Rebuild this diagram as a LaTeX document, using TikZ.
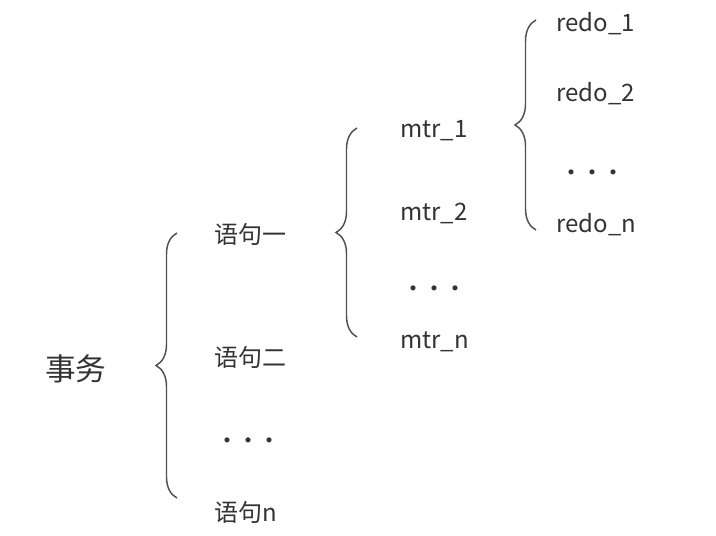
\documentclass[tikz,border=0pt]{standalone}
\usepackage{fontspec}
\setmainfont{Noto Sans CJK SC}
\usetikzlibrary{decorations.pathreplacing}
\definecolor{txtgray}{RGB}{51,51,51}
\definecolor{bracegray}{RGB}{80,80,80}
\newcommand{\dotrow}{·\hspace{-0.12em}·\hspace{-0.12em}·}

\begin{document}
\begin{tikzpicture}[
  x=0.75pt, y=-0.75pt,
  item/.style={anchor=base west, inner sep=0pt, text=txtgray,
               font=\fontsize{18}{21}\selectfont},
  head/.style={item, font=\fontsize{23}{27}\selectfont},
  gap/.style={item, anchor=west},
  curly/.style={decorate, decoration={brace, amplitude=15.75pt},
                draw=bracegray, line width=1.1pt}
]
\useasboundingbox (0,0) rectangle (716,535);

% Root
\node[head] (shiwu) at (45,380) {事务};

% Statements
\node[item] (yj1)   at (214,243) {语句一};
\node[item] (yj2)   at (214,366) {语句二};
\node[gap]  (yjdot) at (215,444) {\dotrow};
\node[item] (yjn)   at (214,521) {语句n};

% Mini-transactions of the first statement
\node[item] (mtr1)   at (400,137) {mtr\_1};
\node[item] (mtr2)   at (400,220) {mtr\_2};
\node[gap]  (mtrdot) at (401,292) {\dotrow};
\node[item] (mtrn)   at (400,348) {mtr\_n};

% Redo records of mtr_1
\node[item] (redo1)   at (556,32)  {redo\_1};
\node[item] (redo2)   at (556,101) {redo\_2};
\node[gap]  (redodot) at (559,176) {\dotrow};
\node[item] (redon)   at (556,232) {redo\_n};

% Brace ends
\coordinate (b1top) at (177,233);
\coordinate (b1bot) at (177,498);
\coordinate (b2top) at (357,128);
\coordinate (b2bot) at (357,337);
\coordinate (b3top) at (536,20);
\coordinate (b3bot) at (536,230);

% Braces
\draw[curly] (b1bot) -- (b1top);
\draw[curly] (b2bot) -- (b2top);
\draw[curly] (b3bot) -- (b3top);
\end{tikzpicture}
\end{document}
